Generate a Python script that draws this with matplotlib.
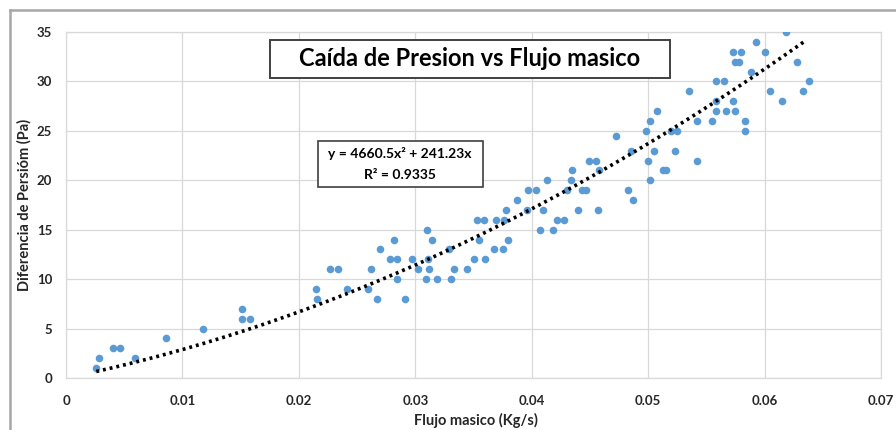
import matplotlib
matplotlib.use("Agg")
import matplotlib.pyplot as plt
from matplotlib.patches import Rectangle
import numpy as np

plt.rcParams['font.family'] = ['Lato', 'DejaVu Sans']

flujo = [0.0026, 0.0028, 0.0040, 0.0046, 0.0059, 0.0086, 0.0118, 0.0151, 0.0151, 0.0158,
         0.0215, 0.0216, 0.0227, 0.0234, 0.0241, 0.0259, 0.0262, 0.0267, 0.0270, 0.0278,
         0.0282, 0.0284, 0.0284, 0.0291, 0.0297, 0.0302, 0.0310, 0.0314, 0.0311, 0.0312,
         0.0309, 0.0319, 0.0329, 0.0333, 0.0331, 0.0344, 0.0350, 0.0353, 0.0359, 0.0355,
         0.0360, 0.0369, 0.0368, 0.0375, 0.0376, 0.0378, 0.0380, 0.0387, 0.0397, 0.0396,
         0.0404, 0.0407, 0.0410, 0.0413, 0.0418, 0.0422, 0.0428, 0.0430, 0.0434, 0.0435,
         0.0440, 0.0443, 0.0447, 0.0449, 0.0455, 0.0458, 0.0457, 0.0472, 0.0483, 0.0485,
         0.0487, 0.0498, 0.0500, 0.0502, 0.0502, 0.0505, 0.0508, 0.0513, 0.0515, 0.0520,
         0.0523, 0.0525, 0.0535, 0.0542, 0.0542, 0.0555, 0.0558, 0.0558, 0.0558, 0.0565,
         0.0567, 0.0573, 0.0573, 0.0575, 0.0575, 0.0578, 0.0580, 0.0583, 0.0583, 0.0588,
         0.0593, 0.0600, 0.0605, 0.0615, 0.0618, 0.0628, 0.0633, 0.0638]
presion = [1, 2, 3, 3, 2, 4, 5, 7, 6, 6,
           9, 8, 11, 11, 9, 9, 11, 8, 13, 12,
           14, 12, 10, 8, 12, 11, 15, 14, 12, 11,
           10, 10, 13, 11, 10, 11, 12, 16, 16, 14,
           12, 16, 13, 13, 16, 17, 14, 18, 19, 17,
           19, 15, 17, 20, 15, 16, 16, 19, 20, 21,
           17, 19, 19, 22, 22, 21, 17, 24.5, 19, 23,
           18, 25, 22, 20, 26, 23, 27, 21, 21, 25,
           23, 25, 29, 26, 22, 26, 30, 28, 27, 30,
           27, 33, 28, 32, 27, 32, 33, 26, 25, 31,
           34, 33, 29, 28, 35, 32, 29, 30]

coef_a = 4660.5
coef_b = 241.23
r2 = 0.9335
x_ticks = [0, 0.01, 0.02, 0.03, 0.04, 0.05, 0.06, 0.07]
x_tick_labels = ["0", "0.01", "0.02", "0.03", "0.04", "0.05", "0.06", "0.07"]
y_ticks = [0, 5, 10, 15, 20, 25, 30, 35]

W, H = 896, 430
fig = plt.figure(figsize=(W / 100, H / 100), dpi=100)

def fx(px):
    return px / W

def fy(py):
    return 1 - py / H

# outer chart border (top and left visible)
fig.add_artist(plt.Line2D([fx(10), 1], [fy(10), fy(10)], color='#A6A6A6', lw=1.8, transform=fig.transFigure))
fig.add_artist(plt.Line2D([fx(10), fx(10)], [fy(10), 0], color='#A6A6A6', lw=1.8, transform=fig.transFigure))

ax = fig.add_axes([fx(66), fy(378), fx(881) - fx(66), fy(32) - fy(378)])
ax.scatter(flujo, presion, s=30, color='#5B9BD5', zorder=3, linewidths=0)

xt = np.linspace(min(flujo), 0.0635, 200)
ax.plot(xt, coef_a * xt**2 + coef_b * xt, color='black', lw=2.6,
        linestyle=(0, (0.8, 1.1)), zorder=4)

ax.set_xlim(0, 0.07)
ax.set_ylim(0, 35)
ax.set_xticks(x_ticks)
ax.set_xticklabels(x_tick_labels)
ax.set_yticks(y_ticks)
ax.grid(True, color='#D9D9D9', lw=0.9)
ax.set_axisbelow(True)
for s in ax.spines.values():
    s.set_color('#D9D9D9')
    s.set_linewidth(0.9)
ax.tick_params(length=0, labelsize=9.5, colors='#262626')
ax.tick_params(axis='x', pad=12)
ax.tick_params(axis='y', pad=10)
for lab in ax.get_xticklabels() + ax.get_yticklabels():
    lab.set_fontweight('bold')

fig.text(fx(476), fy(420), "Flujo masico (Kg/s)", ha='center', va='center',
         fontsize=10.5, fontweight='bold', color='#262626')
fig.text(fx(24), fy(205), "Diferencia de Persióm (Pa)", ha='center', va='center',
         rotation=90, fontsize=10.5, fontweight='bold', color='#262626')

# title box
fig.add_artist(Rectangle((fx(270), fy(78)), fx(670) - fx(270), fy(40) - fy(78),
                         transform=fig.transFigure, facecolor='white',
                         edgecolor='#404040', lw=1.4, zorder=5))
fig.text(fx(470), fy(59), "Caída de Presion vs Flujo masico", ha='center', va='center',
         fontsize=17, fontweight='bold', color='black', zorder=6)

# equation box
fig.add_artist(Rectangle((fx(318), fy(187)), fx(483) - fx(318), fy(141) - fy(187),
                         transform=fig.transFigure, facecolor='white',
                         edgecolor='#404040', lw=1.2, zorder=5))
fig.text(fx(400), fy(154), f"y = {coef_a}x² + {coef_b}x", ha='center', va='center',
         fontsize=10, fontweight='bold', color='black', zorder=6)
fig.text(fx(400), fy(175), f"R² = {r2}", ha='center', va='center',
         fontsize=10, fontweight='bold', color='black', zorder=6)

fig.savefig("out.png", dpi=100)
